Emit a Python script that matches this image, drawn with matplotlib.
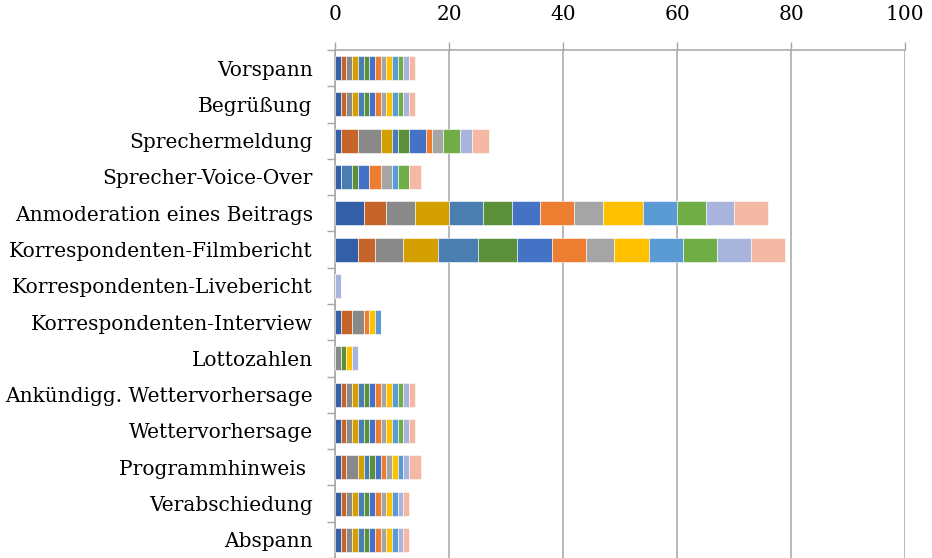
import matplotlib
matplotlib.use("Agg")
import matplotlib.pyplot as plt
import numpy as np

# -----------------------------------------------------------------

categories = ["Vorspann", "Begrüßung", "Sprechermeldung", "Sprecher-Voice-Over",
              "Anmoderation eines Beitrags", "Korrespondenten-Filmbericht",
              "Korrespondenten-Livebericht", "Korrespondenten-Interview", "Lottozahlen",
              "Ankündigg. Wettervorhersage", "Wettervorhersage", "Programmhinweis ",
              "Verabschiedung", "Abspann"]

# one list per stacked series, values in category order
s01 = [1, 1, 1, 1, 5, 4, 0, 1, 0, 1, 1, 1, 1, 1]
s02 = [1, 1, 3, 0, 4, 3, 0, 2, 0, 1, 1, 1, 1, 1]
s03 = [1, 1, 4, 0, 5, 5, 0, 2, 1, 1, 1, 2, 1, 1]
s04 = [1, 1, 2, 0, 6, 6, 0, 0, 0, 1, 1, 1, 1, 1]
s05 = [1, 1, 1, 2, 6, 7, 0, 0, 0, 1, 1, 1, 1, 1]
s06 = [1, 1, 2, 1, 5, 7, 0, 0, 1, 1, 1, 1, 1, 1]
s07 = [1, 1, 3, 2, 5, 6, 0, 0, 0, 1, 1, 1, 1, 1]
s08 = [1, 1, 1, 2, 6, 6, 0, 1, 0, 1, 1, 1, 1, 1]
s09 = [1, 1, 2, 2, 5, 5, 0, 0, 0, 1, 1, 1, 1, 1]
s10 = [1, 1, 0, 0, 7, 6, 0, 1, 1, 1, 1, 1, 1, 1]
s11 = [1, 1, 0, 1, 6, 6, 0, 1, 0, 1, 1, 1, 1, 1]
s12 = [1, 1, 3, 2, 5, 6, 0, 0, 0, 1, 1, 0, 0, 0]
s13 = [1, 1, 2, 0, 5, 6, 1, 0, 1, 1, 1, 1, 1, 1]
s14 = [1, 1, 3, 2, 6, 6, 0, 0, 0, 1, 1, 2, 1, 1]

xticks = [0, 20, 40, 60, 80, 100]

# -----------------------------------------------------------------

series = [s01, s02, s03, s04, s05, s06, s07, s08, s09, s10, s11, s12, s13, s14]
colors = ['#345EA5', '#C5652A', '#898989', '#D3A000', '#4A7EB0', '#5B8F3A', '#4472C4',
          '#ED7D31', '#A5A5A5', '#FFC000', '#5B9BD5', '#70AD47', '#A9B4DC', '#F4B8A4']

plt.rcParams['font.family'] = ['DejaVu Serif']
gridcolor = '#A6A6A6'

fig = plt.figure(figsize=(9.32, 5.58), dpi=100)
ax = fig.add_axes([335/932, 0.0, 570/932, 1 - 50/558])

ypos = np.arange(len(categories))
left = np.zeros(len(categories))
for vals, col in zip(series, colors):
    vals = np.array(vals, dtype=float)
    ax.barh(ypos, vals, left=left, height=0.66, color=col, edgecolor='white',
            linewidth=0.4, zorder=3)
    left += vals

# axis details
ax.set_xlim(0, 100)
ax.set_ylim(len(categories) - 0.5, -0.5)
ax.xaxis.tick_top()
ax.set_xticks(xticks)
ax.set_xticklabels([str(t) for t in xticks], fontsize=14.5)
ax.tick_params(axis='x', direction='out', length=5.5, width=1, color=gridcolor, pad=13)
ax.set_yticks(ypos)
ax.set_yticklabels(categories, fontsize=14.5)
ax.tick_params(axis='y', which='major', length=0, pad=16)
ax.set_yticks(np.arange(-0.5, len(categories) + 0.5, 1), minor=True)
ax.tick_params(axis='y', which='minor', direction='out', length=5.5, width=1, color=gridcolor)
ax.grid(axis='x', color=gridcolor, linewidth=1.1, zorder=0)

for side in ('right', 'bottom'):
    ax.spines[side].set_visible(False)
for side in ('top', 'left'):
    ax.spines[side].set_color(gridcolor)
    ax.spines[side].set_linewidth(1.1)

fig.savefig("out.png", dpi=100)
